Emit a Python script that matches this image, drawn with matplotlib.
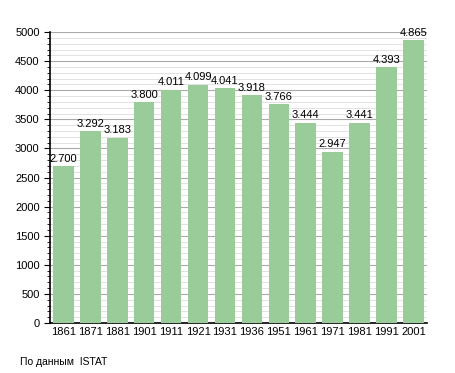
import matplotlib
matplotlib.use("Agg")
import matplotlib.pyplot as plt
from matplotlib.ticker import MultipleLocator

years = ["1861", "1871", "1881", "1901", "1911", "1921", "1931",
         "1936", "1951", "1961", "1971", "1981", "1991", "2001"]
population = [2700, 3292, 3183, 3800, 4011, 4099, 4041,
              3918, 3766, 3444, 2947, 3441, 4393, 4865]

plt.rcParams['font.family'] = ['Liberation Sans', 'DejaVu Sans']

fig = plt.figure(figsize=(4.55, 3.73), dpi=100)
ax = fig.add_axes([0.11, 0.134, 0.828, 0.78])

x = range(len(years))
ax.bar(x, population, width=0.76, color="#99cc99", zorder=3)

for i, v in zip(x, population):
    ax.text(i, v + 40, f"{v:,}".replace(",", "."), ha="center", va="bottom",
            fontsize=8, zorder=4)

ax.set_xlim(-0.5, len(years) - 0.5)
ax.set_ylim(0, 5000)
ax.yaxis.set_major_locator(MultipleLocator(500))
ax.yaxis.set_minor_locator(MultipleLocator(100))
ax.grid(which="major", axis="y", color="#aaaaaa", linewidth=0.8, zorder=0)
ax.grid(which="minor", axis="y", color="#dddddd", linewidth=0.6, zorder=0)

ax.set_xticks(list(x))
ax.set_xticklabels(years, fontsize=8)
ax.tick_params(axis="y", labelsize=8, length=4, width=0.8)
ax.tick_params(axis="y", which="minor", length=2, width=0.6)
ax.tick_params(axis="x", length=0, pad=3)

for s in ["top", "right"]:
    ax.spines[s].set_visible(False)
ax.spines["left"].set_linewidth(1.2)
ax.spines["bottom"].set_linewidth(1.2)

fig.text(20 / 455, 1 - 362 / 373, "По данным  ISTAT", fontsize=7.5, va="center")

fig.savefig("out.png", dpi=100)
